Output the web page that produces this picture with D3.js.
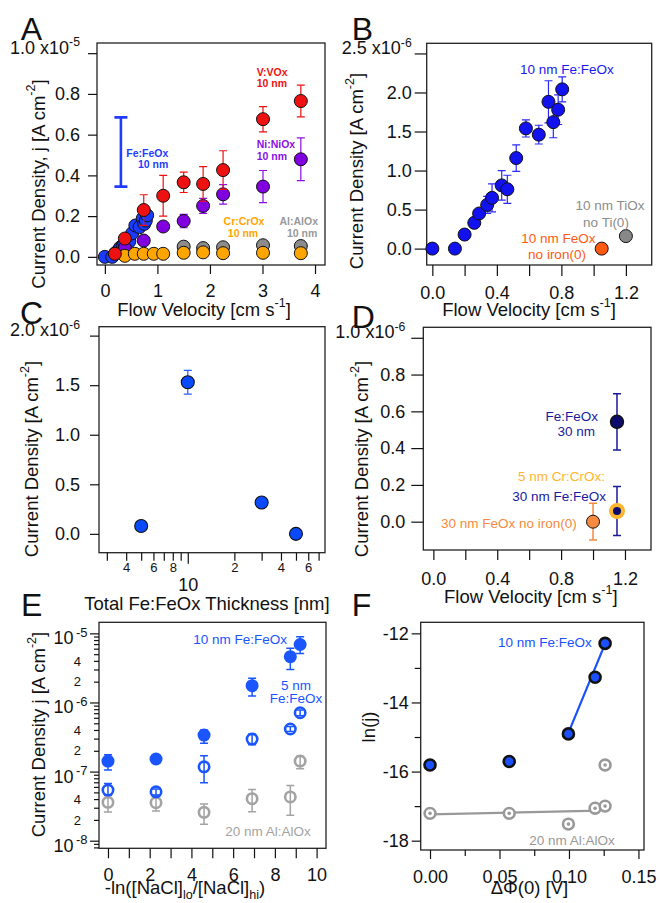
<!DOCTYPE html>
<html lang="en">
<head>
<meta charset="UTF-8">
<title>Current density panels</title>
<script src="https://d3js.org/d3.v7.min.js"></script>
<style>
  body { margin: 0; background: #fff; }
  svg text { font-family: "Liberation Sans", Arial, Helvetica, sans-serif; }
</style>
</head>
<body>
<script>
// ---- panel A : current density vs flow velocity, 10 nm films (x1e-5 A cm-2)
const aYTicks = [0, 0.2, 0.4, 0.6, 0.8, 1.0];
const aXTicks = [0, 1, 2, 3, 4];
const aFeX = [0, 0.14, 0.20, 0.26, 0.29, 0.34, 0.37, 0.43, 0.465, 0.52, 0.58, 0.66, 0.72, 0.75, 0.78, 0.805];
const aFeY = [0, 0, 0.018, 0.033, 0.045, 0.056, 0.065, 0.081, 0.076, 0.116, 0.154, 0.146, 0.188, 0.162, 0.178, 0.204];
const aFeBarX = [0.305], aFeBarLo = [0.345], aFeBarHi = [0.685];
const aVX = [0.19, 0.38, 0.74, 1.11, 1.50, 1.87, 2.25, 3.01, 3.73];
const aVY = [0.015, 0.09, 0.23, 0.30, 0.366, 0.358, 0.426, 0.676, 0.765];
const aVErr = [0, 0, 0.075, 0.10, 0.05, 0.085, 0.095, 0.062, 0.078];
const aNiX = [0.38, 0.74, 1.11, 1.50, 1.87, 2.25, 3.01, 3.73];
const aNiY = [0.043, 0.08, 0.149, 0.176, 0.25, 0.307, 0.345, 0.479];
const aNiErr = [0, 0, 0, 0.033, 0.037, 0.048, 0.079, 0.105];
const aCrX = [0.38, 0.57, 0.74, 0.93, 1.11, 1.50, 1.87, 2.25, 3.01, 3.73];
const aCrY = [0.005, 0.015, 0.015, 0.015, 0.015, 0.02, 0.022, 0.018, 0.02, 0.018];
const aAlX = [1.50, 1.87, 2.25, 3.01, 3.73];
const aAlY = [0.05, 0.043, 0.047, 0.057, 0.053];

// ---- panel B : 10 nm Fe:FeOx (x1e-6 A cm-2)
const bYTicks = [0, 0.5, 1.0, 1.5, 2.0, 2.5];
const bXTicks = [0, 0.4, 0.8, 1.2];
const bXMinor = [0.2, 0.6, 1.0];
const bFeX = [0, 0.14, 0.20, 0.26, 0.29, 0.34, 0.37, 0.43, 0.465, 0.52, 0.58, 0.66, 0.72, 0.75, 0.78, 0.805];
const bFeY = [0, 0, 0.18, 0.33, 0.45, 0.56, 0.65, 0.81, 0.76, 1.16, 1.54, 1.46, 1.88, 1.62, 1.78, 2.04];
const bFeErr = [0, 0, 0, 0, 0, 0.11, 0.18, 0.19, 0.18, 0.17, 0.11, 0.12, 0.27, 0.20, 0.19, 0.16];
const bFeOxX = [1.05], bFeOxY = [0];
const bTiOxX = [1.20], bTiOxY = [0.16];

// ---- panel C : thickness dependence (x1e-6 A cm-2)
const cYTicks = [0, 0.5, 1.0, 1.5, 2.0];
const cXMinor = [3, 4, 5, 6, 7, 8, 9, 20, 30, 40, 50, 60, 70];
const cXMinorLabels = ["", "4", "", "6", "", "8", "", "2", "", "4", "", "6", ""];
const cXMajor = [10];
const cThick = [5, 10, 30, 50];
const cJ = [0.08, 1.53, 0.316, 0.0];
const cErr = [0, 0.12, 0, 0];

// ---- panel D : 30 nm films (x1e-6 A cm-2)
const dYTicks = [0, 0.2, 0.4, 0.6, 0.8, 1.0];
const dXTicks = [0, 0.4, 0.8, 1.2];
const dXMinor = [0.2, 0.6, 1.0];
const dFeX = [1.15], dFeY = [0.543], dFeErr = [0.153];
const dCrFeX = [1.15], dCrFeY = [0.058], dCrFeErr = [0.133];
const dFeOxX = [1.0], dFeOxY = [0.0], dFeOxErr = [0.1];

// ---- panel E : salinity gradient, log current
const eXTicks = [0, 2, 4, 6, 8, 10];
const eXMinor = [1, 3, 5, 7, 9];
const eDecades = [1e-8, 1e-7, 1e-6, 1e-5];
const eDecadeExp = ["-8", "-7", "-6", "-5"];
const eSalt = [0, 2.303, 4.605, 6.908, 8.74, 9.21];
const eFe10 = [1.42e-7, 1.52e-7, 3.38e-7, 1.75e-6, 4.6e-6, 6.9e-6];
const eFe10Lo = [1.05e-7, 1.52e-7, 2.57e-7, 1.24e-6, 3.0e-6, 5.1e-6];
const eFe10Hi = [1.75e-7, 1.52e-7, 4.0e-7, 2.24e-6, 6.07e-6, 8.9e-6];
const eFe5 = [5.4e-8, 5.1e-8, 1.17e-7, 2.95e-7, 4.13e-7, 7.1e-7];
const eFe5Lo = [4.6e-8, 4.6e-8, 6.9e-8, 2.45e-7, 3.8e-7, 6.4e-7];
const eFe5Hi = [6.7e-8, 5.6e-8, 1.7e-7, 3.5e-7, 4.5e-7, 7.8e-7];
const eAl20 = [3.59e-8, 3.55e-8, 2.57e-8, 4.05e-8, 4.3e-8, 1.42e-7];
const eAl20Lo = [2.6e-8, 2.7e-8, 1.73e-8, 2.63e-8, 2.34e-8, 1.1e-7];
const eAl20Hi = [4.5e-8, 4.5e-8, 3.4e-8, 5.5e-8, 6.3e-8, 1.66e-7];

// ---- panel F : ln(j) vs delta phi
const fXTicks = [0, 0.05, 0.10, 0.15];
const fXMinor = [0.025, 0.075, 0.125];
const fYTicks = [-12, -14, -16, -18];
const fYMinor = [-13, -15, -17];
const fDPhi = [0, 0.057, 0.0996, 0.1188, 0.126];
const fLnJFe = [-15.81, -15.71, -14.91, -13.27, -12.29];
const fDPhiAl = [0, 0.057, 0.0996, 0.1188, 0.126, 0.126];
const fLnJAl = [-17.21, -17.21, -17.52, -17.06, -17.0, -15.81];
const fFitFeX = [0.0996, 0.1253], fFitFeY = [-14.88, -12.37];
const fFitAlX = [0, 0.122], fFitAlY = [-17.24, -17.13];

const FONT = '"Liberation Sans", Arial, Helvetica, sans-serif';
const INK = "#111";

const svg = d3.select("body").append("svg")
    .attr("width", 660)
    .attr("height", 903);

// text with super/subscripts
function rich(sel, segs, fs, raise) {
  let off = 0;
  const up = raise || 0.5;
  segs.forEach(function(s) {
    const small = s.sup || s.sub;
    const target = s.sup ? -up * fs : (s.sub ? 0.27 * fs : 0);
    sel.append("tspan")
      .attr("dy", target - off)
      .attr("font-size", small ? fs * 0.68 : fs)
      .text(s.t);
    off = target;
  });
  return sel;
}

function panel(box) {
  const x = (box.xlog ? d3.scaleLog() : d3.scaleLinear()).domain(box.xd).range([box.l, box.r]);
  const y = (box.ylog ? d3.scaleLog() : d3.scaleLinear()).domain(box.yd).range([box.b, box.t]);
  const g = svg.append("g");
  g.append("rect")
    .attr("x", box.l).attr("y", box.t)
    .attr("width", box.r - box.l).attr("height", box.b - box.t)
    .attr("fill", "none").attr("stroke", "#222").attr("stroke-width", 1.3);
  return { g: g, x: x, y: y, l: box.l, r: box.r, t: box.t, b: box.b };
}

function tidy(ax, fs) {
  ax.attr("font-family", FONT).attr("font-size", fs || 18);
  ax.select(".domain").remove();
  ax.selectAll(".tick line").attr("stroke", INK).attr("stroke-width", 1.2);
  ax.selectAll(".tick text").attr("fill", INK);
  return ax;
}

function ticksX(P, vals, size, pad, fmt, fs) {
  const ax = P.g.append("g").attr("transform", "translate(0," + P.b + ")")
    .call(d3.axisBottom(P.x).tickValues(vals).tickSize(size).tickPadding(pad).tickFormat(fmt || (() => "")));
  return tidy(ax, fs);
}

function ticksY(P, vals, size, pad, fmt, fs) {
  const ax = P.g.append("g").attr("transform", "translate(" + P.l + ",0)")
    .call(d3.axisLeft(P.y).tickValues(vals).tickSize(size).tickPadding(pad).tickFormat(fmt || (() => "")));
  return tidy(ax, fs);
}

// top tick label of a scaled axis: "1.0 x10^-5", sits a little under its tick
function expLabel(ax, v, base, exp) {
  ax.selectAll(".tick text").filter(d => d === v).text(null)
    .attr("dy", "0.55em")
    .each(function() { rich(d3.select(this), [{ t: base }, { t: exp, sup: true }], 18, 0.4); });
}

function title(x, y, segs, rotate) {
  const t = svg.append("text").attr("text-anchor", "middle").attr("fill", INK).attr("font-size", 18.5);
  if (rotate) t.attr("transform", "translate(" + x + "," + y + ") rotate(-90)");
  else t.attr("x", x).attr("y", y);
  rich(t, segs, 18.5);
}

function note(x, y, txt, color, anchor, fs, bold) {
  svg.append("text")
    .attr("x", x).attr("y", y)
    .attr("text-anchor", anchor || "start")
    .attr("font-size", fs || 13.5)
    .attr("font-weight", bold ? "bold" : null)
    .attr("fill", color)
    .text(txt);
}

function letter(x, y, txt) {
  svg.append("text").attr("x", x).attr("y", y).attr("font-size", 32).attr("fill", INK).text(txt);
}

function errBars(P, xs, lo, hi, color, cap, sw) {
  const idx = d3.range(xs.length).filter(i => hi[i] !== lo[i]);
  P.g.append("g").selectAll("path").data(idx).join("path")
    .attr("d", function(i) {
      const X = P.x(xs[i]), y1 = P.y(lo[i]), y2 = P.y(hi[i]);
      return "M" + (X - cap) + "," + y1 + "H" + (X + cap) + "M" + X + "," + y1 + "V" + y2 +
             "M" + (X - cap) + "," + y2 + "H" + (X + cap);
    })
    .attr("fill", "none").attr("stroke", color).attr("stroke-width", sw);
}

function symErr(P, xs, ys, err, color, cap, sw) {
  errBars(P, xs, ys.map((v, i) => v - err[i]), ys.map((v, i) => v + err[i]), color, cap, sw);
}

function dots(P, xs, ys, r, fill, stroke, sw) {
  P.g.append("g").selectAll("circle").data(xs).join("circle")
    .attr("cx", d => P.x(d))
    .attr("cy", (d, i) => P.y(ys[i]))
    .attr("r", r)
    .attr("fill", fill)
    .attr("stroke", stroke || "none")
    .attr("stroke-width", sw || 0);
}

function fitLine(P, xs, ys, color, sw) {
  P.g.append("path")
    .attr("d", d3.line().x(d => P.x(d[0])).y(d => P.y(d[1]))(xs.map((v, i) => [v, ys[i]])))
    .attr("fill", "none").attr("stroke", color).attr("stroke-width", sw);
}

const flowTitle = [{ t: "Flow Velocity [cm s" }, { t: "-1", sup: true }, { t: "]" }];
const jTitle = [{ t: "Current Density [A cm" }, { t: "-2", sup: true }, { t: "]" }];

// ================= A
const A = panel({ l: 97, r: 325, t: 43, b: 265, xd: [-0.15, 4.19], yd: [-0.04, 1.05] });
ticksX(A, aXTicks, 9, 10, d3.format("d"));
expLabel(ticksY(A, aYTicks, 9, 8, d3.format(".1f")), 1.0, "1.0 x10", "-5");
errBars(A, aFeBarX, aFeBarLo, aFeBarHi, "#1f3cff", 6.5, 2.6);
dots(A, aFeX, aFeY, 6.5, "#1a3aff", INK, 1);
symErr(A, aNiX, aNiY, aNiErr, "#8a10e6", 4, 1.2);
dots(A, aNiX, aNiY, 6.5, "#8000e0", INK, 1);
dots(A, aAlX, aAlY, 6.5, "#8c8c8c", INK, 1);
dots(A, aCrX, aCrY, 6.5, "#ffa500", INK, 1);
symErr(A, aVX, aVY, aVErr, "#ee1111", 4, 1.2);
dots(A, aVX, aVY, 6.5, "#ee1111", INK, 1);
note(256.7, 75.7, "V:VOx", "#ee1111", "start", 10.5, true);
note(256.7, 87.3, "10 nm", "#ee1111", "start", 10.5, true);
note(256.7, 148.3, "Ni:NiOx", "#8a10e6", "start", 10.5, true);
note(256.7, 160, "10 nm", "#8a10e6", "start", 10.5, true);
note(244, 225, "Cr:CrOx", "#ffa500", "middle", 10.5, true);
note(243, 236.7, "10 nm", "#ffa500", "middle", 10.5, true);
note(318, 225, "Al:AlOx", "#999", "end", 10.5, true);
note(317.3, 236.7, "10 nm", "#999", "end", 10.5, true);
note(168.3, 156.7, "Fe:FeOx", "#1f3cff", "end", 10.5, true);
note(168.3, 168.3, "10 nm", "#1f3cff", "end", 10.5, true);
title(204, 316, flowTitle);
title(44.5, 184, [{ t: "Current Density, j [A cm" }, { t: "-2", sup: true }, { t: "]" }], true);
letter(20.7, 40, "A");

// ================= B
const B = panel({ l: 426.7, r: 651.7, t: 43.3, b: 265, xd: [-0.035, 1.36], yd: [-0.21, 2.63] });
ticksX(B, bXMinor, 11, 0);
ticksX(B, bXTicks, 11, 10, d3.format(".1f"));
expLabel(ticksY(B, bYTicks, 12, 3, d3.format(".1f")), 2.5, "2.5 x10", "-6");
symErr(B, bFeX, bFeY, bFeErr, "#2a2aff", 4, 1.2);
dots(B, bFeX, bFeY, 6.5, "#1212ee", INK, 1);
dots(B, bFeOxX, bFeOxY, 6.5, "#ff5a10", INK, 1);
dots(B, bTiOxX, bTiOxY, 6.5, "#888", INK, 1);
note(520, 74, "10 nm Fe:FeOx", "#1a1aee", "start");
note(610, 210, "10 nm TiOx", "#8c8c8c", "middle");
note(606, 226.7, "no Ti(0)", "#8c8c8c", "middle");
note(558.3, 243.3, "10 nm FeOx", "#ff5a10", "middle");
note(557, 259.3, "no iron(0)", "#ff5a10", "middle");
title(529, 316, flowTitle);
title(363, 171, jTitle, true);
letter(351.7, 40, "B");

// ================= C
const C = panel({ l: 99, r: 325, t: 326.7, b: 552.7, xlog: true, xd: [2.67, 77], yd: [-0.19, 2.09] });
ticksX(C, cXMinor, 8, 2.5, (d, i) => cXMinorLabels[i], 13);
ticksX(C, cXMajor, 11, 14.3, d3.format("d"));
expLabel(ticksY(C, cYTicks, 9, 10, d3.format(".1f")), 2.0, "2.0 x10", "-6");
symErr(C, cThick, cJ, cErr, "#2a5cff", 4, 1.2);
dots(C, cThick, cJ, 6.5, "#0a4aff", INK, 1.1);
title(207, 610, [{ t: "Total Fe:FeOx Thickness [nm]" }]);
title(38, 459, jTitle, true);
letter(20, 324, "C");

// ================= D
const D = panel({ l: 423.3, r: 651, t: 327.3, b: 550, xd: [-0.063, 1.363], yd: [-0.154, 1.057] });
ticksX(D, dXMinor, 10, 0);
ticksX(D, dXTicks, 10, 12, d3.format(".1f"));
expLabel(ticksY(D, dYTicks, 12, 6, d3.format(".1f")), 1.0, "1.0 x10", "-6");
symErr(D, dFeOxX, dFeOxY, dFeOxErr, "#f58a40", 4, 1.5);
dots(D, dFeOxX, dFeOxY, 6.5, "#f58a40", INK, 1);
symErr(D, dFeX, dFeY, dFeErr, "#1a1a99", 4, 1.5);
dots(D, dFeX, dFeY, 6.5, "#0c0c6e", INK, 1.4);
symErr(D, dCrFeX, dCrFeY, dCrFeErr, "#1a1a99", 4, 1.5);
dots(D, dCrFeX, dCrFeY, 6, "#0c0c6e", "#ffb52e", 4);
note(598, 421, "Fe:FeOx", "#1a1aa0", "end");
note(595, 435.7, "30 nm", "#1a1aa0", "end");
note(605, 480.7, "5 nm Cr:CrOx:", "#ffb52e", "end");
note(606, 501, "30 nm Fe:FeOx", "#1a1aa0", "end");
note(576.7, 528.3, "30 nm FeOx no iron(0)", "#f58a40", "end");
title(530.8, 603, flowTitle);
title(368, 459, jTitle, true);
letter(351.7, 328, "D");

// ================= E
const E = panel({ l: 99, r: 326, t: 622.3, b: 848.3, ylog: true, xd: [-0.43, 10.45], yd: [Math.pow(10, -8.11), Math.pow(10, -4.84)] });
ticksX(E, eXMinor, 10, 0);
ticksX(E, eXTicks, 10, 10, d3.format("d"));
const eMinor = [];
for (let e = -9; e <= -5; e++) {
  for (let k = 2; k <= 9; k++) {
    const v = k * Math.pow(10, e);
    if (v > E.y.domain()[0] && v < E.y.domain()[1]) eMinor.push(v);
  }
}
ticksY(E, eMinor, 5, 0);
ticksY(E, eDecades, 9, 0);
eDecades.forEach(function(v, i) {
  svg.append("text").attr("x", 73.5).attr("y", E.y(v) + 11).attr("text-anchor", "end")
    .attr("font-size", 18).attr("fill", INK).text("10");
  svg.append("text").attr("x", 76).attr("y", E.y(v) + 3.5)
    .attr("font-size", 13).attr("fill", INK).text(eDecadeExp[i]);
});
function mantissa(v) {
  return Math.round(v / Math.pow(10, Math.floor(Math.log10(v) + 1e-9)));
}
eMinor.filter(v => [2, 4].includes(mantissa(v))).forEach(function(v) {
  svg.append("text").attr("x", 81).attr("y", E.y(v)).attr("dy", "0.36em").attr("text-anchor", "end")
    .attr("font-size", 13).attr("fill", INK).text(mantissa(v));
});
errBars(E, eSalt, eAl20Lo, eAl20Hi, "#a3a3a3", 4, 1.5);
dots(E, eSalt, eAl20, 5.2, "none", "#a3a3a3", 2.6);
errBars(E, eSalt, eFe5Lo, eFe5Hi, "#1a55ff", 4, 1.5);
dots(E, eSalt, eFe5, 5.2, "none", "#1a55ff", 2.6);
errBars(E, eSalt, eFe10Lo, eFe10Hi, "#1a55ff", 4, 1.5);
dots(E, eSalt, eFe10, 6.5, "#1a55ff");
note(193.3, 644, "10 nm Fe:FeOx", "#1a55ff", "start");
note(296, 690, "5 nm", "#1a55ff", "middle");
note(296, 703.3, "Fe:FeOx", "#1a55ff", "middle");
note(310.7, 835.7, "20 nm Al:AlOx", "#a3a3a3", "end");
title(185, 894, [{ t: "-ln([NaCl]" }, { t: "lo", sub: true }, { t: "/[NaCl]" }, { t: "hi", sub: true }, { t: ")" }]);
title(45, 734.5, [{ t: "Current Density j [A cm" }, { t: "-2", sup: true }, { t: "]" }], true);
letter(21, 616, "E");

// ================= F
const F = panel({ l: 420.7, r: 644, t: 622.3, b: 850, xd: [-0.0067, 0.154], yd: [-18.27, -11.68] });
ticksX(F, fXMinor, 6, 0);
ticksX(F, fXTicks, 9, 11, d3.format(".2f"));
ticksY(F, fYMinor, 6, 0);
ticksY(F, fYTicks, 9, 3, d => String(d));
fitLine(F, fFitAlX, fFitAlY, "#999", 2.2);
dots(F, fDPhiAl, fLnJAl, 5.4, "#fff", "#999", 2.6);
dots(F, fDPhiAl, fLnJAl, 1.8, "#999");
fitLine(F, fFitFeX, fFitFeY, "#1a50ff", 2.2);
dots(F, fDPhi, fLnJFe, 5.5, "#1a50ff", INK, 2.6);
note(591.7, 646.7, "10 nm Fe:FeOx", "#1a50ff", "end");
note(529.3, 845, "20 nm Al:AlOx", "#999", "start");
title(529.5, 894, [{ t: "\u0394\u03A6(0) [V]" }]);
title(375, 727, [{ t: "ln(j)" }], true);
letter(351.7, 616, "F");
</script>
</body>
</html>
